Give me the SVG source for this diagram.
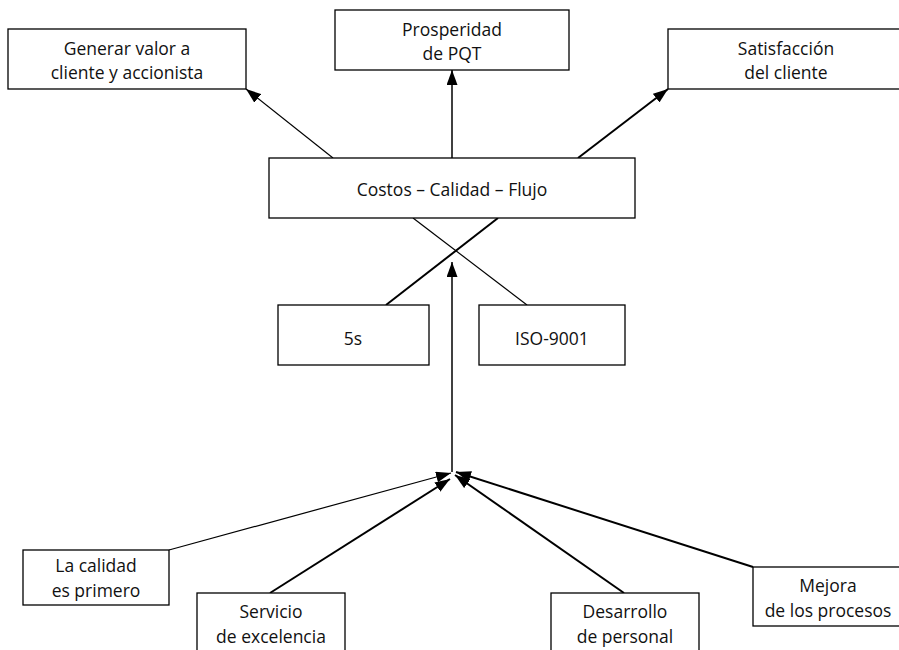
<svg xmlns="http://www.w3.org/2000/svg" width="899" height="650" viewBox="0 0 899 650">
<style>
.box{fill:#fff;stroke:#000;stroke-width:1.3}
.t{font-family:"Open Sans","Noto Sans","Liberation Sans",sans-serif;font-size:17.5px;fill:#111;text-anchor:middle}
.ln{stroke:#000;fill:none}
</style>
<defs>
<marker id="ah" markerUnits="userSpaceOnUse" markerWidth="16" markerHeight="11" refX="15" refY="5.5" orient="auto">
<path d="M0,0 L15,5.5 L0,11 z" fill="#000"/>
</marker>
</defs>
<rect width="899" height="650" fill="#fff"/>
<g id="connectors">
<line class="ln" x1="333" y1="158" x2="246" y2="89" stroke-width="1.2" marker-end="url(#ah)"/>
<line class="ln" x1="452" y1="158" x2="452" y2="70" stroke-width="1.5" marker-end="url(#ah)"/>
<line class="ln" x1="578" y1="158" x2="668" y2="89" stroke-width="2" marker-end="url(#ah)"/>
<line class="ln" x1="413" y1="218" x2="527" y2="305" stroke-width="1.2"/>
<line class="ln" x1="386" y1="305" x2="498" y2="218" stroke-width="2"/>
<line class="ln" x1="452" y1="472" x2="452" y2="262" stroke-width="1.5" marker-end="url(#ah)"/>
<line class="ln" x1="169" y1="550" x2="451" y2="473" stroke-width="1.2" marker-end="url(#ah)"/>
<line class="ln" x1="270" y1="593" x2="450" y2="479" stroke-width="2" marker-end="url(#ah)"/>
<line class="ln" x1="624" y1="593" x2="455" y2="475" stroke-width="2" marker-end="url(#ah)"/>
<line class="ln" x1="753" y1="567" x2="456" y2="472" stroke-width="2" marker-end="url(#ah)"/>
</g>
<g id="n-generar">
<rect class="box" x="8" y="29" width="238" height="60"/>
<text class="t" x="127" y="55">Generar valor a</text>
<text class="t" x="127" y="79">cliente y accionista</text>
</g>
<g id="n-prosperidad">
<rect class="box" x="335" y="10" width="234" height="60"/>
<text class="t" x="452" y="36">Prosperidad</text>
<text class="t" x="452" y="60">de PQT</text>
</g>
<g id="n-satisfaccion">
<rect class="box" x="668" y="29" width="236" height="60"/>
<text class="t" x="786" y="55">Satisfacción</text>
<text class="t" x="786" y="79">del cliente</text>
</g>
<g id="n-costos">
<rect class="box" x="269" y="158" width="366" height="60"/>
<text class="t" x="452" y="196">Costos – Calidad – Flujo</text>
</g>
<g id="n-5s">
<rect class="box" x="278" y="305" width="151" height="60"/>
<text class="t" x="353" y="345">5s</text>
</g>
<g id="n-iso">
<rect class="box" x="479" y="305" width="146" height="60"/>
<text class="t" x="552" y="345">ISO-9001</text>
</g>
<g id="n-calidad">
<rect class="box" x="23" y="550" width="146" height="55"/>
<text class="t" x="96" y="572">La calidad</text>
<text class="t" x="96" y="597">es primero</text>
</g>
<g id="n-servicio">
<rect class="box" x="197" y="593" width="148" height="70"/>
<text class="t" x="271" y="618">Servicio</text>
<text class="t" x="271" y="643">de excelencia</text>
</g>
<g id="n-desarrollo">
<rect class="box" x="551" y="593" width="148" height="70"/>
<text class="t" x="625" y="618">Desarrollo</text>
<text class="t" x="625" y="643">de personal</text>
</g>
<g id="n-mejora">
<rect class="box" x="753" y="567" width="151" height="59"/>
<text class="t" x="828" y="592">Mejora</text>
<text class="t" x="828" y="617">de los procesos</text>
</g>
</svg>
